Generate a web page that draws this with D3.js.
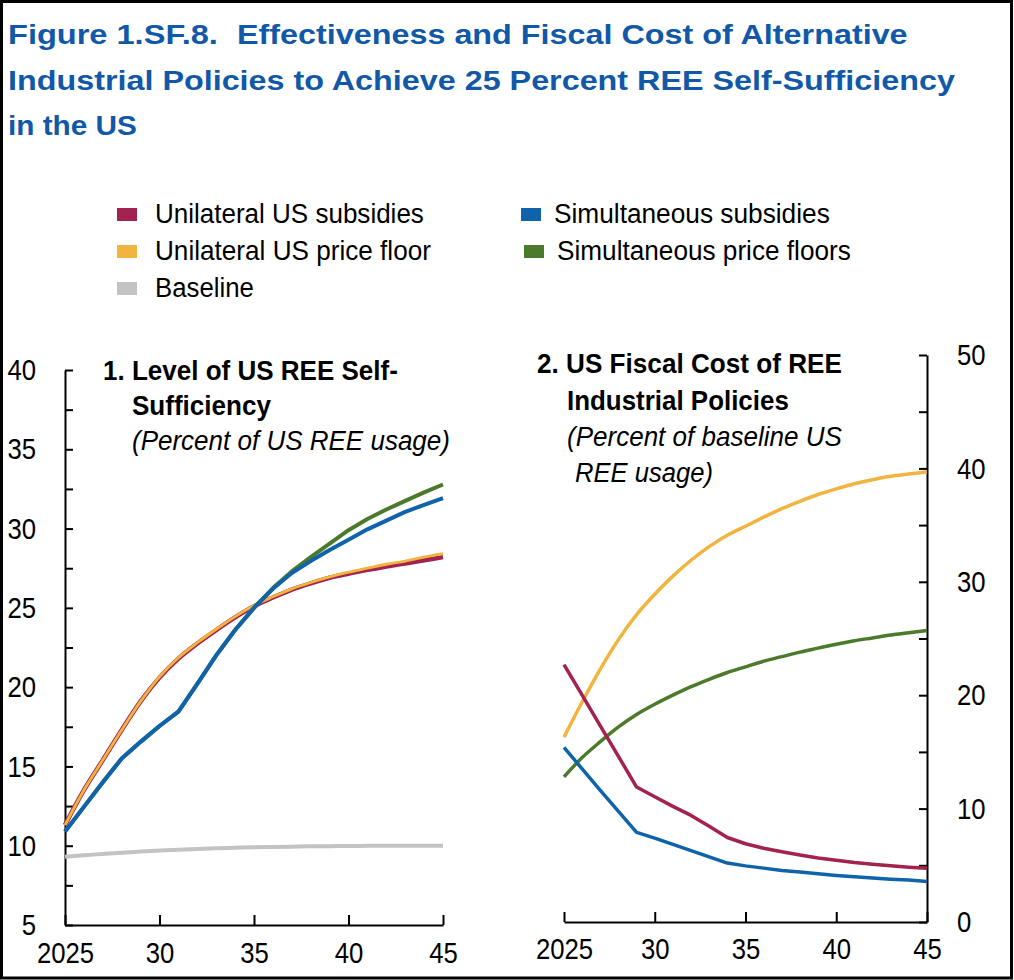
<!DOCTYPE html>
<html>
<head>
<meta charset="utf-8">
<script src="https://cdn.jsdelivr.net/npm/d3@7"></script>
<style>
  body { margin: 0; background: #fff; }
  svg { display: block; }
</style>
</head>
<body>
<div id="chart"></div>
<script>
// DATA
const years = [2025, 2026, 2027, 2028, 2029, 2030, 2031, 2032, 2033, 2034, 2035,
    2036, 2037, 2038, 2039, 2040, 2041, 2042, 2043, 2044, 2045];

// panel 1: level of US REE self-sufficiency (percent of US REE usage)
const selfUniSubsidy = [11.3, 13.5, 15.4, 17.3, 19.1, 20.6, 21.8, 22.75, 23.6, 24.4, 25.1,
    25.65, 26.15, 26.55, 26.9, 27.15, 27.4, 27.6, 27.8, 28.0, 28.2];
const selfUniFloor = [11.3, 13.5, 15.4, 17.3, 19.1, 20.65, 21.85, 22.8, 23.65, 24.45, 25.15,
    25.7, 26.2, 26.6, 26.95, 27.25, 27.5, 27.75, 27.95, 28.2, 28.42];
const selfSimSubsidy = [10.9, 12.45, 14.0, 15.5, 16.55, 17.55, 18.45, 20.2, 22.0, 23.6, 25.0,
    26.2, 27.2, 27.95, 28.65, 29.3, 29.95, 30.5, 31.05, 31.5, 31.92];
const selfSimFloor = [10.9, 12.45, 14.0, 15.5, 16.55, 17.55, 18.45, 20.2, 22.0, 23.6, 25.0,
    26.25, 27.3, 28.2, 29.05, 29.9, 30.6, 31.2, 31.75, 32.28, 32.78];
const selfBaseline = [9.3, 9.4, 9.48, 9.56, 9.63, 9.7, 9.75, 9.8, 9.84, 9.87, 9.9,
    9.92, 9.94, 9.96, 9.97, 9.98, 9.99, 10.0, 10.0, 10.0, 10.0];

// panel 2: US fiscal cost (percent of baseline US REE usage)
const costUniSubsidy = [22.7, 20.0, 17.3, 14.6, 11.9, 11.05, 10.2, 9.4, 8.45, 7.45, 6.9,
    6.5, 6.2, 5.9, 5.65, 5.45, 5.25, 5.1, 4.95, 4.83, 4.73];
const costUniFloor = [16.3, 19.4, 22.3, 24.9, 27.1, 28.9, 30.5, 31.9, 33.1, 34.1, 34.9,
    35.7, 36.45, 37.1, 37.7, 38.2, 38.65, 39.0, 39.3, 39.5, 39.7];
const costSimSubsidy = [15.4, 13.5, 11.6, 9.75, 7.9, 7.4, 6.85, 6.3, 5.75, 5.2, 4.95,
    4.75, 4.55, 4.4, 4.25, 4.1, 3.98, 3.88, 3.78, 3.7, 3.58];
const costSimFloor = [12.8, 14.5, 15.9, 17.2, 18.3, 19.2, 20.0, 20.75, 21.4, 22.0, 22.5,
    23.0, 23.4, 23.8, 24.15, 24.5, 24.8, 25.05, 25.3, 25.5, 25.7];

// ticks
const xTicks = [2025, 2030, 2035, 2040, 2045];
const xTickLabels = ["2025", "30", "35", "40", "45"];
const leftYTicks = [5, 7.5, 10, 12.5, 15, 17.5, 20, 22.5, 25, 27.5, 30, 32.5, 35, 37.5, 40];
const rightYTicks = [0, 5, 10, 15, 20, 25, 30, 35, 40, 45, 50];

const seriesNames = ["Unilateral US subsidies", "Unilateral US price floor", "Baseline",
    "Simultaneous subsidies", "Simultaneous price floors"];

// CONSTANTS
const width = 1014,
    height = 980,
    colors = {
        red: "#a3224f",
        orange: "#f1b53f",
        gray: "#c3c3c3",
        blue: "#0f63aa",
        green: "#4b7a2c"
    },
    font = "'Liberation Sans', Arial, sans-serif",
    digitWidth = 14.3; // px per digit in the tick labels

const svg = d3.select("#chart")
    .append("svg")
    .attr("width", width)
    .attr("height", height);

svg.append("rect")
    .attr("x", 0).attr("y", 0)
    .attr("width", width).attr("height", height)
    .attr("fill", "#fff");

// frame
svg.append("rect")
    .attr("x", 1.5).attr("y", 1.5)
    .attr("width", 1010).attr("height", 976.5)
    .attr("fill", "none")
    .attr("stroke", "#000")
    .attr("stroke-width", 3);

// squeeze / stretch a text horizontally so it spans w pixels
function fit(sel, w) {
    sel.each(function (d) {
        const target = typeof w === "function" ? w(d) : w;
        const x = +this.getAttribute("x") || 0,
            y = +this.getAttribute("y") || 0;
        const natural = this.getComputedTextLength();
        this.setAttribute("x", 0);
        this.setAttribute("y", 0);
        this.setAttribute("transform", `translate(${x},${y}) scale(${target / natural},1)`);
    });
}

// TITLE
const titleParts = [
    { t: "Figure 1.SF.8.", x: 8, y: 44, w: 210 },
    { t: "Effectiveness and Fiscal Cost of Alternative", x: 237, y: 44, w: 671 },
    { t: "Industrial Policies to Achieve 25 Percent REE Self-Sufficiency", x: 8, y: 89.5, w: 947 },
    { t: "in the US", x: 8, y: 135, w: 129 }
];
svg.append("g")
    .selectAll("text")
    .data(titleParts)
    .join("text")
    .attr("x", d => d.x)
    .attr("y", d => d.y)
    .attr("font-family", font)
    .attr("font-weight", "bold")
    .attr("font-size", 27.5)
    .attr("fill", "#1158a8")
    .text(d => d.t)
    .call(fit, d => d.w);

// LEGEND
const legendItems = [
    { name: seriesNames[0], color: colors.red, x: 117, y: 223, w: 269 },
    { name: seriesNames[1], color: colors.orange, x: 117, y: 260, w: 276 },
    { name: seriesNames[2], color: colors.gray, x: 117, y: 297, w: 99 },
    { name: seriesNames[3], color: colors.blue, x: 521, y: 223, w: 276 },
    { name: seriesNames[4], color: colors.green, x: 524, y: 260, w: 294 }
];
const legend = svg.append("g")
    .selectAll("g")
    .data(legendItems)
    .join("g")
    .attr("transform", d => `translate(${d.x},${d.y})`);
legend.append("rect")
    .attr("x", 0).attr("y", -15)
    .attr("width", 20).attr("height", 13)
    .attr("fill", d => d.color);
legend.append("text")
    .attr("x", d => d.x > 500 ? 33 : 38)
    .attr("y", 0)
    .attr("font-family", font)
    .attr("font-size", 28)
    .attr("fill", "#000")
    .text(d => d.name)
    .call(fit, d => d.w);

// SCALES
const xLeft = d3.scaleLinear().domain([2025, 2045]).range([65, 443]);
const yLeft = d3.scaleLinear().domain([5, 40]).range([925, 370]);
const xRight = d3.scaleLinear().domain([2025, 2045]).range([564, 927]);
const yRight = d3.scaleLinear().domain([0, 50]).range([922, 355]);

function styleAxis(g) {
    g.attr("font-family", font).attr("font-size", 30);
    g.selectAll("path, line").attr("stroke", "#000").attr("stroke-width", 2);
    g.selectAll("text").attr("fill", "#000");
    // narrow the digits: keep the anchor, squeeze the glyphs
    g.selectAll(".tick text").each(function () {
        const s = this.textContent;
        if (!s) return;
        const x = +this.getAttribute("x") || 0,
            y = +this.getAttribute("y") || 0;
        const k = digitWidth * s.length / this.getComputedTextLength();
        this.setAttribute("x", 0);
        this.setAttribute("y", 0);
        this.setAttribute("transform", `translate(${x},${y}) scale(${k},1)`);
    });
}

// AXES - panel 1
svg.append("g")
    .attr("transform", `translate(0,${yLeft(5)})`)
    .call(d3.axisBottom(xLeft)
        .tickValues(xTicks)
        .tickFormat((d, i) => xTickLabels[i])
        .tickSize(-10)
        .tickSizeOuter(0)
        .tickPadding(17))
    .call(styleAxis);

svg.append("g")
    .attr("transform", `translate(${xLeft(2025)},0)`)
    .call(d3.axisLeft(yLeft)
        .tickValues(leftYTicks)
        .tickFormat(d => d % 5 === 0 ? d : "")
        .tickSize(-8)
        .tickSizeOuter(0)
        .tickPadding(29))
    .call(styleAxis);

// AXES - panel 2
svg.append("g")
    .attr("transform", `translate(0,${yRight(0)})`)
    .call(d3.axisBottom(xRight)
        .tickValues(xTicks)
        .tickFormat((d, i) => xTickLabels[i])
        .tickSize(-10)
        .tickSizeOuter(0)
        .tickPadding(16))
    .call(styleAxis);

svg.append("g")
    .attr("transform", `translate(${xRight(2045)},0)`)
    .call(d3.axisRight(yRight)
        .tickValues(rightYTicks)
        .tickFormat(d => d % 10 === 0 ? d : "")
        .tickSize(-8)
        .tickSizeOuter(0)
        .tickPadding(30))
    .call(styleAxis);

// LINES
function drawLine(values, x, y, color, w, curve) {
    const line = d3.line()
        .curve(curve || d3.curveLinear)
        .x((d, i) => x(years[i]))
        .y(d => y(d));
    svg.append("path")
        .datum(values)
        .attr("d", line)
        .attr("fill", "none")
        .attr("stroke", color)
        .attr("stroke-width", w)
        .attr("stroke-linejoin", "round")
        .attr("stroke-linecap", "butt");
}

const smooth = d3.curveMonotoneX;

drawLine(selfBaseline, xLeft, yLeft, colors.gray, 4, smooth);
drawLine(selfUniSubsidy, xLeft, yLeft, colors.red, 4.5, smooth);
drawLine(selfUniFloor, xLeft, yLeft, colors.orange, 2.8, smooth);
drawLine(selfSimFloor, xLeft, yLeft, colors.green, 4);
drawLine(selfSimSubsidy, xLeft, yLeft, colors.blue, 4);

drawLine(costUniFloor, xRight, yRight, colors.orange, 3.5, smooth);
drawLine(costSimFloor, xRight, yRight, colors.green, 3.5, smooth);
drawLine(costUniSubsidy, xRight, yRight, colors.red, 3.5);
drawLine(costSimSubsidy, xRight, yRight, colors.blue, 3.5);

// PANEL TITLES
const panelText = [
    { t: "1. Level of US REE Self-", x: 103, y: 380, w: 295, style: "bold" },
    { t: "Sufficiency", x: 132, y: 415, w: 139, style: "bold" },
    { t: "(Percent of US REE usage)", x: 132, y: 450, w: 318, style: "italic" },
    { t: "2. US Fiscal Cost of REE", x: 537, y: 373, w: 305, style: "bold" },
    { t: "Industrial Policies", x: 567, y: 410, w: 222, style: "bold" },
    { t: "(Percent of baseline US", x: 567, y: 446, w: 275, style: "italic" },
    { t: "REE usage)", x: 575, y: 482, w: 138, style: "italic" }
];
svg.append("g")
    .selectAll("text")
    .data(panelText)
    .join("text")
    .attr("x", d => d.x)
    .attr("y", d => d.y)
    .attr("font-family", font)
    .attr("font-size", 28)
    .attr("font-weight", d => d.style === "bold" ? "bold" : "normal")
    .attr("font-style", d => d.style === "italic" ? "italic" : "normal")
    .attr("fill", "#000")
    .text(d => d.t)
    .call(fit, d => d.w);
</script>
</body>
</html>
